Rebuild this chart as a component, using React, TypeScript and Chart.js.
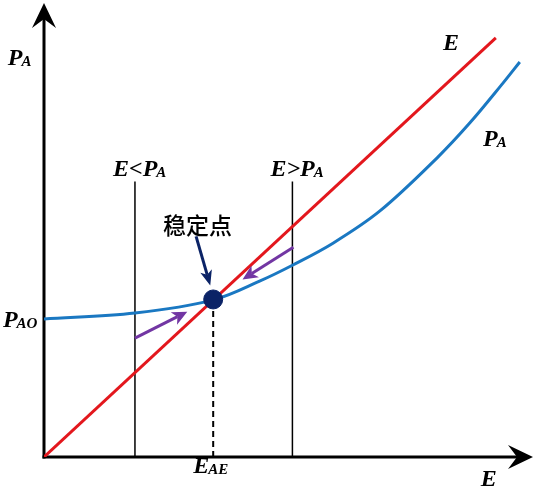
import React, { useEffect, useRef } from "react";
import { Chart, registerables } from "chart.js";

Chart.register(...registerables);

// Line E = P_A (45° line in data units)
const eLineX = [0, 9.24];
const eLineY = [0, 9.23];

// Curve P_A(E)
const paX = [0, 1.86, 3.46, 4.42, 5.09, 5.91, 6.87, 8.04, 8.71, 9.39, 9.73];
const paY = [3.04, 3.17, 3.46, 3.88, 4.23, 4.71, 5.42, 6.59, 7.36, 8.24, 8.7];

// Stable point
const stableX = [3.46];
const stableY = [3.47];

// Reference vertical lines E<P_A and E>P_A
const guideX = [1.86, 5.08];
const guideTop = 6.07;

// Purple direction arrows: [fromX, fromY, toX, toY]
const moveArrows = [
  [1.86, 2.62, 2.93, 3.2],
  [5.1, 4.62, 4.06, 3.91],
];
// Navy pointer arrow to stable point
const pointerArrow = [3.11, 4.86, 3.4, 3.78];

// Text labels: main, subscript, x, y (data units, left/baseline)
const labels: [string, string, number, number][] = [
  ["P", "A", -0.74, 8.64],
  ["P", "AO", -0.84, 2.86],
  ["E", "AE", 3.05, -0.35],
  ["E", "", 8.93, -0.64],
  ["E", "", 8.16, 8.97],
  ["P", "A", 8.98, 6.84],
  ["E<P", "A", 1.41, 6.18],
  ["E>P", "A", 4.63, 6.18],
];
const stableLabel = "稳定点";
const stableLabelPos = [3.14, 4.92];

const RED = "#e3171d";
const BLUE = "#1a78c2";
const PURPLE = "#7236a3";
const NAVY = "#0b2366";

function arrowHead(
  ctx: CanvasRenderingContext2D,
  x1: number, y1: number, x2: number, y2: number,
  len: number, half: number, notch: number, color: string, width: number
) {
  const ang = Math.atan2(y2 - y1, x2 - x1);
  const cos = Math.cos(ang), sin = Math.sin(ang);
  const bx = x2 - len * cos, by = y2 - len * sin;
  const nx = x2 - (len - notch) * cos, ny = y2 - (len - notch) * sin;
  ctx.save();
  ctx.strokeStyle = color;
  ctx.fillStyle = color;
  ctx.lineWidth = width;
  ctx.lineCap = "butt";
  ctx.beginPath();
  ctx.moveTo(x1, y1);
  ctx.lineTo(nx, ny);
  ctx.stroke();
  ctx.beginPath();
  ctx.moveTo(x2, y2);
  ctx.lineTo(bx - half * sin, by + half * cos);
  ctx.lineTo(nx, ny);
  ctx.lineTo(bx + half * sin, by - half * cos);
  ctx.closePath();
  ctx.fill();
  ctx.restore();
}

const decorPlugin = {
  id: "decor",
  beforeDatasetsDraw(chart: any) {
    const { ctx, chartArea, scales } = chart;
    const x0 = scales.x.getPixelForValue(0);
    const y0 = scales.y.getPixelForValue(0);
    // axes
    arrowHead(ctx, x0, y0 + 1.5, x0, chartArea.top, 25, 12, 9, "#000", 3);
    arrowHead(ctx, x0 - 1.5, y0, chartArea.right, y0, 25, 12, 9, "#000", 3);
  },
  afterDatasetsDraw(chart: any) {
    const { ctx, scales } = chart;
    const px = (v: number) => scales.x.getPixelForValue(v);
    const py = (v: number) => scales.y.getPixelForValue(v);
    for (const a of moveArrows) {
      arrowHead(ctx, px(a[0]), py(a[1]), px(a[2]), py(a[3]), 15, 7, 4, PURPLE, 3);
    }
    const p = pointerArrow;
    arrowHead(ctx, px(p[0]), py(p[1]), px(p[2]), py(p[3]), 15, 6, 4, NAVY, 3);

    ctx.save();
    ctx.fillStyle = "#000";
    ctx.textBaseline = "alphabetic";
    ctx.textAlign = "left";
    for (const [main, sub, x, y] of labels) {
      const X = px(x), Y = py(y);
      ctx.font = "italic bold 24px 'Liberation Serif', serif";
      ctx.fillText(main, X, Y);
      const w = ctx.measureText(main).width;
      if (sub) {
        ctx.font = "italic bold 15px 'Liberation Serif', serif";
        ctx.fillText(sub, X + w - 1, Y + 1);
      }
    }
    ctx.font = "500 23px 'Noto Sans CJK SC', sans-serif";
    ctx.textAlign = "center";
    ctx.fillText(stableLabel, px(stableLabelPos[0]), py(stableLabelPos[1]));
    ctx.restore();
  },
};

export default function App() {
  const ref = useRef<HTMLCanvasElement>(null);
  useEffect(() => {
    if (!ref.current) return;
    const pts = (xs: number[], ys: number[]) => xs.map((x, i) => ({ x, y: ys[i] }));
    const chart = new Chart(ref.current, {
      type: "line",
      data: {
        datasets: [
          {
            data: pts(stableX, stableY),
            showLine: false,
            pointRadius: 9.5,
            pointBackgroundColor: NAVY,
            pointBorderColor: NAVY,
            order: 0,
          },
          {
            data: pts(paX, paY),
            borderColor: BLUE,
            borderWidth: 3,
            pointRadius: 0,
            tension: 0.35,
            order: 1,
          },
          {
            data: pts(eLineX, eLineY),
            borderColor: RED,
            borderWidth: 3,
            pointRadius: 0,
            order: 2,
          },
          ...guideX.map((gx) => ({
            data: [{ x: gx, y: 0 }, { x: gx, y: guideTop }],
            borderColor: "#000",
            borderWidth: 1.5,
            pointRadius: 0,
            order: 3,
          })),
          {
            data: [{ x: stableX[0], y: 0 }, { x: stableX[0], y: stableY[0] }],
            borderColor: "#000",
            borderWidth: 2,
            borderDash: [6, 4],
            pointRadius: 0,
            order: 3,
          },
        ] as any,
      },
      options: {
        animation: false,
        responsive: false,
        maintainAspectRatio: false,
        layout: { autoPadding: false, padding: { left: 44, top: 3, right: 4, bottom: 43 } },
        plugins: { legend: { display: false }, tooltip: { enabled: false } },
        scales: {
          x: { type: "linear", min: 0, max: 10, display: false },
          y: { type: "linear", min: 0, max: 10, display: false },
        },
        elements: { line: { clip: false } as any },
      },
      plugins: [decorPlugin],
    });
    return () => chart.destroy();
  }, []);
  return (
    <div style={{ position: "fixed", left: 0, top: 0, width: 537, height: 500, background: "#fff" }}>
      <canvas ref={ref} width={537} height={500} style={{ width: 537, height: 500 }} />
    </div>
  );
}
